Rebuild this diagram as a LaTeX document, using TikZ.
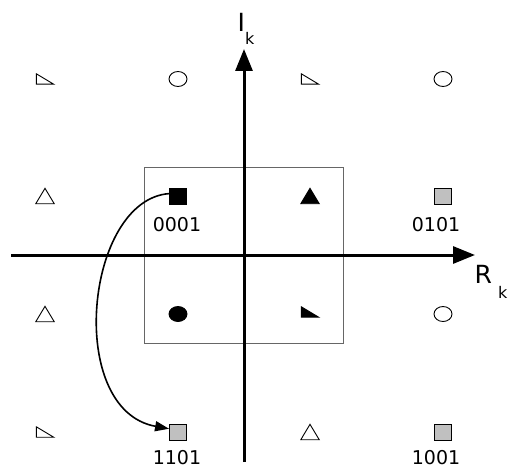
\documentclass[tikz,border=0pt]{standalone}
\usepackage{fontspec}
\setmainfont{DejaVu Sans}
\usetikzlibrary{arrows.meta,shapes.geometric}
\definecolor{symgrey}{HTML}{C0C0C0}
\begin{document}
\begin{tikzpicture}[x=1pt,y=-1pt,
  sym/.style={line width=0.9pt},
  sqr/.style={sym, draw, rectangle, inner sep=0pt, minimum width=17pt, minimum height=16pt},
  circ/.style={sym, draw, ellipse, inner sep=0pt, minimum width=18pt, minimum height=15pt},
  tribox/.style={inner sep=0pt, minimum width=18pt, minimum height=15pt},
  rtribox/.style={inner sep=0pt, minimum width=17pt, minimum height=10pt},
  lbl/.style={font=\fontsize{19}{19}\selectfont, inner sep=0pt},
  axlbl/.style={font=\fontsize{25}{25}\selectfont, inner sep=0pt, anchor=base west},
  subk/.style={font=\fontsize{16}{16}\selectfont},
  axis/.style={line width=3pt, -{Triangle[length=22pt,width=17pt]}},
  conn/.style={line width=1.6pt, -{Triangle[length=14pt,width=10pt]}},
  frame/.style={draw=black!60, line width=0.8pt}
]
\useasboundingbox (0,0) rectangle (510,468);

% inner decision region
\node[frame, rectangle, inner sep=0pt, minimum width=199pt, minimum height=176pt] (box) at (243.5,255) {};

% axes
\coordinate (xl) at (11,255);
\coordinate (xr) at (475,255);
\coordinate (yb) at (244,462);
\coordinate (yt) at (244,49);
\draw[axis] (xl) -- (xr);
\draw[axis] (yb) -- (yt);
\node[axlbl] (ilab) at (237.5,32) {I\raisebox{-13pt}{\fontsize{16}{16}\selectfont k}};
\node[axlbl] (rlab) at (474.5,283) {R\kern6pt\raisebox{-15pt}{\fontsize{16}{16}\selectfont k}};

% row 1
\node[rtribox] (a1) at (45,79) {};
\draw[sym] (a1.north west) -- (a1.south west) -- (a1.south east) -- cycle;
\node[circ] (b1) at (178,79) {};
\node[rtribox] (c1) at (310,79) {};
\draw[sym] (c1.north west) -- (c1.south west) -- (c1.south east) -- cycle;
\node[circ] (d1) at (443,79) {};

% row 2
\node[tribox] (a2) at (45,196) {};
\draw[sym] (a2.south west) -- (a2.south east) -- (a2.north) -- cycle;
\node[sqr, fill=black] (b2) at (178,196) {};
\node[tribox] (c2) at (310,196) {};
\draw[sym, fill=black] (c2.south west) -- (c2.south east) -- (c2.north) -- cycle;
\node[sqr, fill=symgrey] (d2) at (443,196) {};

% row 3
\node[tribox] (a3) at (45,314) {};
\draw[sym] (a3.south west) -- (a3.south east) -- (a3.north) -- cycle;
\node[circ, fill=black] (b3) at (178,314) {};
\node[rtribox] (c3) at (310,312) {};
\draw[sym, fill=black] (c3.north west) -- (c3.south west) -- (c3.south east) -- cycle;
\node[circ] (d3) at (443,314) {};

% row 4
\node[rtribox] (a4) at (45,432) {};
\draw[sym] (a4.north west) -- (a4.south west) -- (a4.south east) -- cycle;
\node[sqr, fill=symgrey] (b4) at (178,432) {};
\node[tribox] (c4) at (310,432) {};
\draw[sym] (c4.south west) -- (c4.south east) -- (c4.north) -- cycle;
\node[sqr, fill=symgrey] (d4) at (443,432) {};

% labels
\node[lbl] (l0001) at (177,225) {0001};
\node[lbl] (l0101) at (436,225) {0101};
\node[lbl] (l1101) at (177,458) {1101};
\node[lbl] (l1001) at (436,458) {1001};

% mapping arrow
\draw[conn] (b2.165) .. controls (85,200) and (65,410) .. (b4.160);
\end{tikzpicture}
\end{document}
